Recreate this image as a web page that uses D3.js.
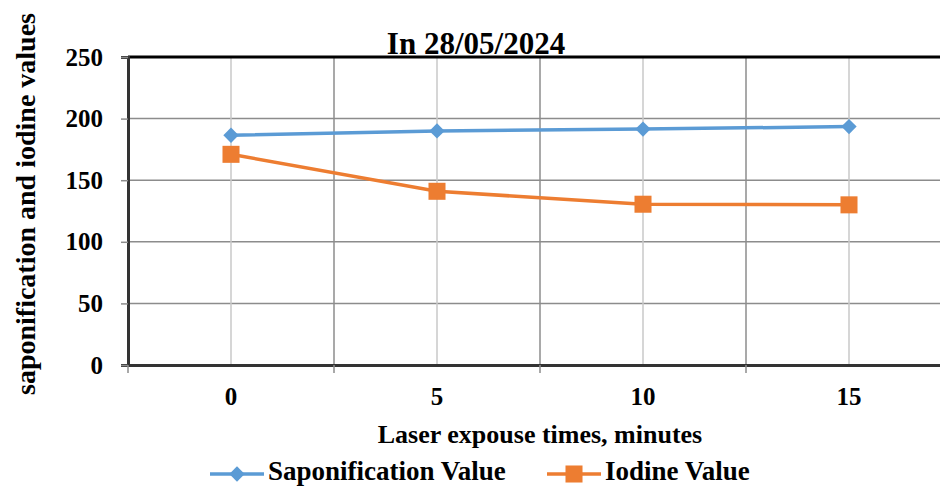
<!DOCTYPE html>
<html>
<head>
<meta charset="utf-8">
<script src="https://cdn.jsdelivr.net/npm/d3@7"></script>
<style>
  body { margin: 0; background: #fff; }
  svg { display: block; }
  svg text { font-family: "Liberation Serif", "Times New Roman", serif; font-weight: bold; fill: #000; }
</style>
</head>
<body>
<div class="vis-linechart"></div>
<script>
const categories = ["0", "5", "10", "15"];
const saponification = [186.5, 190, 191.5, 193.5];
const iodine = [171, 141, 130.5, 130];
const yTicks = [0, 50, 100, 150, 200, 250];

const W = 940, H = 486;
const margin = { top: 57, left: 128, bottom: 121 };
const plotRight = 952; // plot runs past the right edge of the picture

const svg = d3.select(".vis-linechart")
  .append("svg")
  .attr("width", W)
  .attr("height", H);

const x = d3.scaleBand().domain(categories).range([margin.left, plotRight]);
const y = d3.scaleLinear().domain([0, 250]).range([H - margin.bottom, margin.top]);
const cx = (d) => x(d) + x.bandwidth() / 2;

// horizontal grid
svg.append("g")
  .selectAll("line")
  .data(yTicks.filter((t) => t > 0 && t < 250))
  .enter()
  .append("line")
  .attr("x1", margin.left)
  .attr("x2", plotRight)
  .attr("y1", (d) => y(d))
  .attr("y2", (d) => y(d))
  .attr("stroke", "#8c8c8c")
  .attr("stroke-width", 1.5);

// vertical grid: light at categories, darker at band edges
svg.append("g")
  .selectAll("line")
  .data(categories)
  .enter()
  .append("line")
  .attr("x1", cx)
  .attr("x2", cx)
  .attr("y1", y(250))
  .attr("y2", y(0))
  .attr("stroke", "#c8c8c8")
  .attr("stroke-width", 1.5);

svg.append("g")
  .selectAll("line")
  .data(categories.slice(1))
  .enter()
  .append("line")
  .attr("x1", (d) => x(d))
  .attr("x2", (d) => x(d))
  .attr("y1", y(250))
  .attr("y2", y(0))
  .attr("stroke", "#8c8c8c")
  .attr("stroke-width", 1.5);

// top border
svg.append("line")
  .attr("x1", margin.left)
  .attr("x2", plotRight)
  .attr("y1", y(250))
  .attr("y2", y(250))
  .attr("stroke", "#000")
  .attr("stroke-width", 3);

// y axis
const yAxis = svg.append("g")
  .attr("transform", `translate(${margin.left},0)`)
  .call(d3.axisLeft(y).tickValues(yTicks).tickSize(7).tickPadding(18));
yAxis.attr("font-family", null).attr("font-size", 25);
yAxis.select(".domain").attr("stroke", "#333").attr("stroke-width", 3);
yAxis.selectAll(".tick line").attr("stroke", "#8c8c8c").attr("stroke-width", 1.5);

// x axis
const xAxis = svg.append("g")
  .attr("transform", `translate(0,${y(0)})`)
  .call(d3.axisBottom(x).tickSize(0).tickPadding(22));
xAxis.attr("font-family", null).attr("font-size", 25);
xAxis.select(".domain").attr("stroke", "#333").attr("stroke-width", 3);

svg.append("g")
  .selectAll("line")
  .data(categories.concat(["end"]))
  .enter()
  .append("line")
  .attr("x1", (d, i) => margin.left + i * x.bandwidth())
  .attr("x2", (d, i) => margin.left + i * x.bandwidth())
  .attr("y1", y(0))
  .attr("y2", y(0) + 8)
  .attr("stroke", "#8c8c8c")
  .attr("stroke-width", 1.5);

// series
const series = [
  { name: "Saponification Value", values: saponification, color: "#5b9bd5", marker: d3.symbolDiamond2, size: 150 },
  { name: "Iodine Value", values: iodine, color: "#ed7d31", marker: d3.symbolSquare, size: 290 }
];

const line = d3.line()
  .x((d, i) => cx(categories[i]))
  .y((d) => y(d));

series.forEach((s) => {
  svg.append("path")
    .datum(s.values)
    .attr("fill", "none")
    .attr("stroke", s.color)
    .attr("stroke-width", 3.5)
    .attr("d", line);

  svg.append("g")
    .selectAll("path")
    .data(s.values)
    .enter()
    .append("path")
    .attr("transform", (d, i) => `translate(${cx(categories[i])},${y(d)})`)
    .attr("d", d3.symbol().type(s.marker).size(s.size))
    .attr("fill", s.color);
});

// title
svg.append("text")
  .attr("x", 476)
  .attr("y", 54)
  .attr("text-anchor", "middle")
  .attr("font-size", 31)
  .text("In 28/05/2024");

// axis titles
svg.append("text")
  .attr("x", 540)
  .attr("y", 443)
  .attr("text-anchor", "middle")
  .attr("font-size", 26)
  .text("Laser expouse times, minutes");

svg.append("text")
  .attr("transform", "rotate(-90)")
  .attr("x", -204)
  .attr("y", 35)
  .attr("text-anchor", "middle")
  .attr("font-size", 28)
  .text("saponification and iodine values");

// legend
const legendX = [210, 547];
series.forEach((s, i) => {
  const g = svg.append("g").attr("transform", `translate(${legendX[i]},474)`);
  g.append("line")
    .attr("x1", 0)
    .attr("x2", 54)
    .attr("stroke", s.color)
    .attr("stroke-width", 3.5);
  g.append("path")
    .attr("transform", "translate(27,0)")
    .attr("d", d3.symbol().type(s.marker).size(s.size))
    .attr("fill", s.color);
  g.append("text")
    .attr("x", 58)
    .attr("y", 6)
    .attr("font-size", 27)
    .text(s.name);
});
</script>
</body>
</html>
